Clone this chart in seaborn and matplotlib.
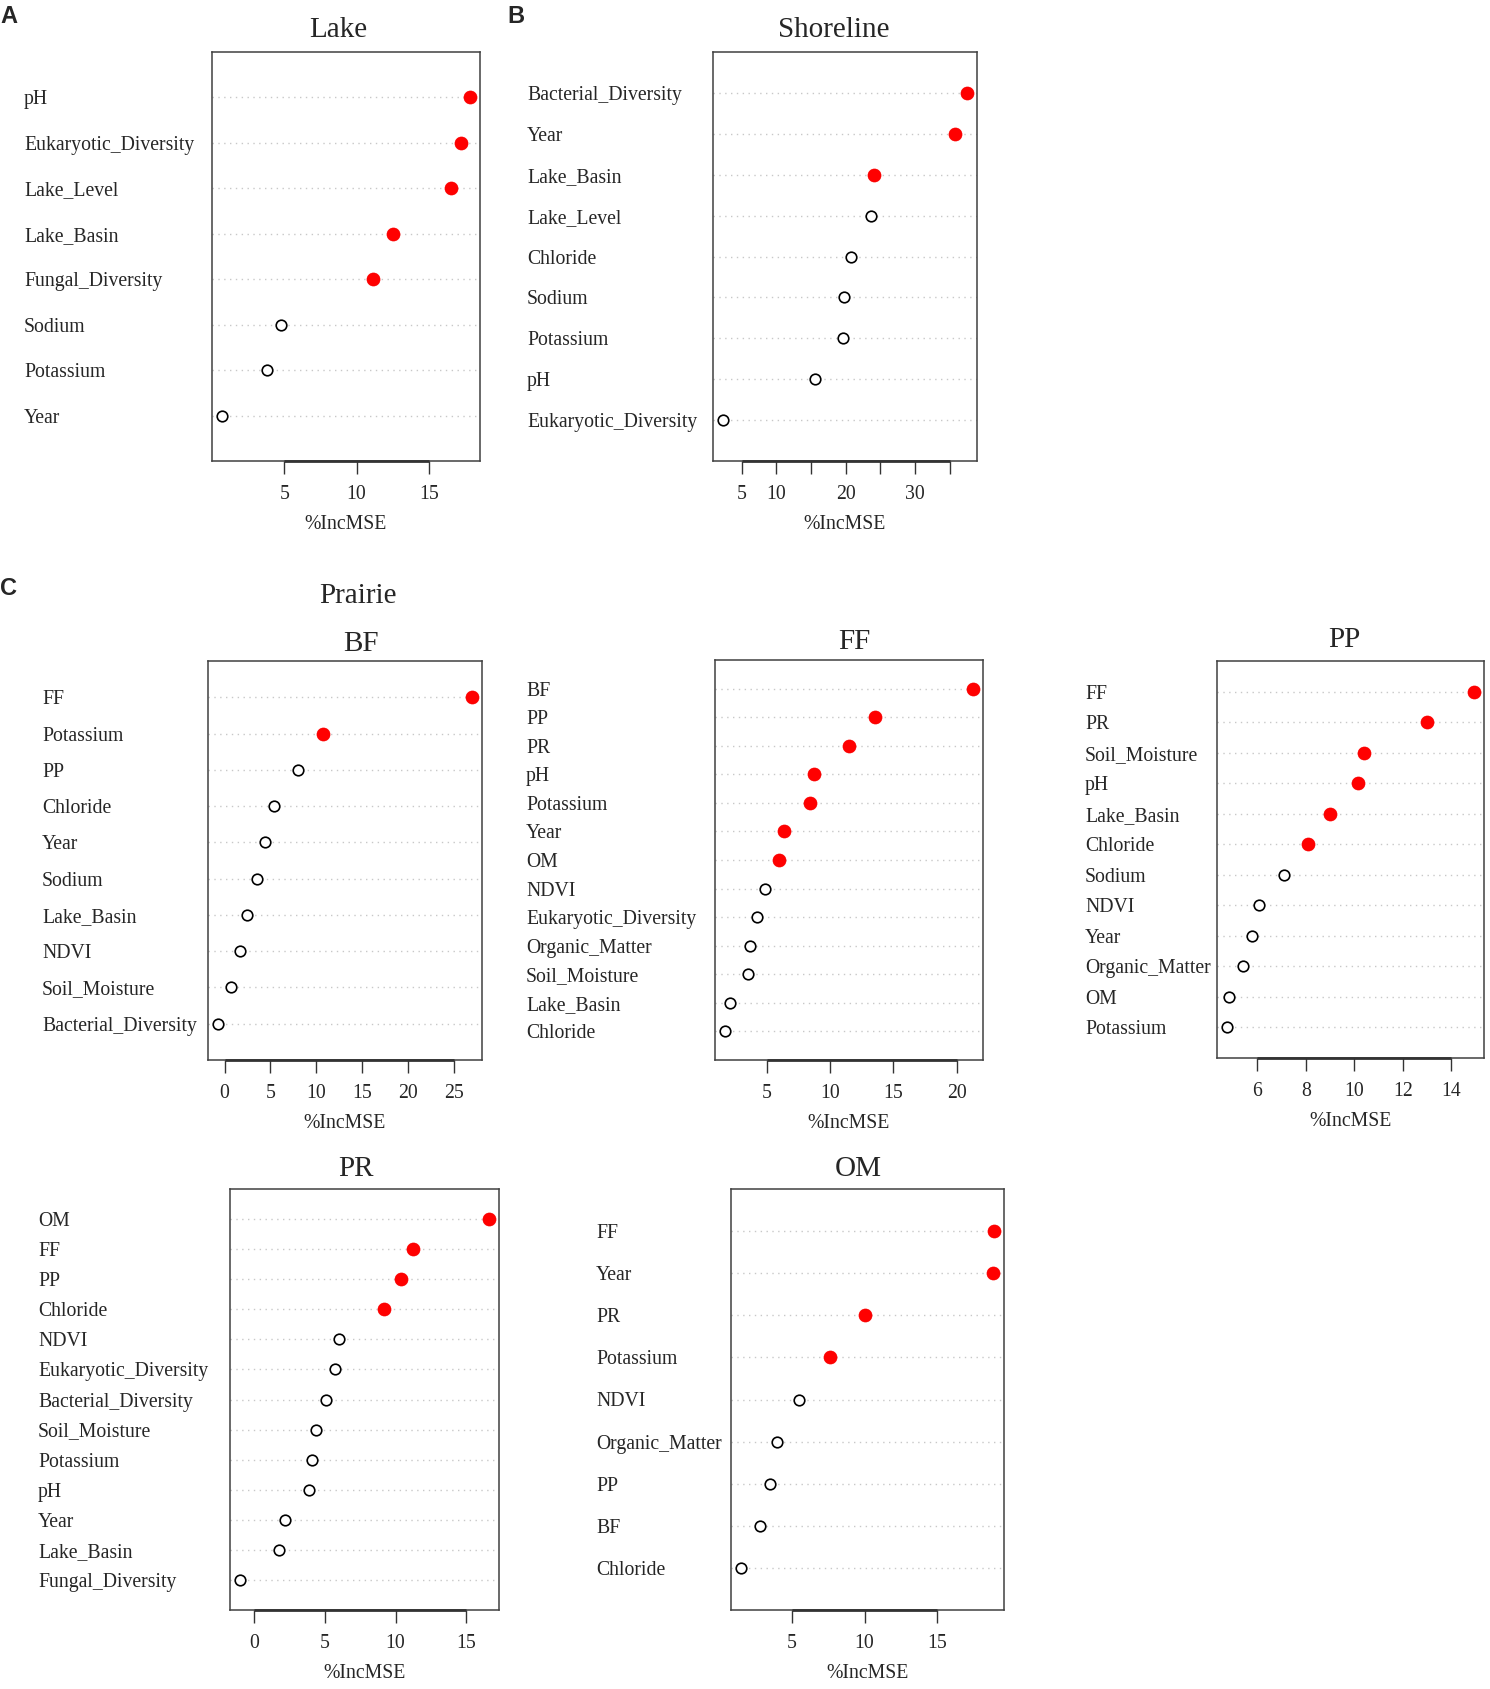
import numpy as np
import pandas as pd
import matplotlib
matplotlib.use("Agg")
import matplotlib.pyplot as plt
import seaborn as sns

# ---------------- data ----------------
lake_vars = ["pH", "Eukaryotic_Diversity", "Lake_Level", "Lake_Basin", "Fungal_Diversity",
             "Sodium", "Potassium", "Year"]
lake_vals = [17.85, 17.25, 16.5, 12.55, 11.1, 4.8, 3.8, 0.68]
lake_nsig = 5
lake_ticks = [5, 10, 15]
lake_ticklabels = ["5", "10", "15"]

shore_vars = ["Bacterial_Diversity", "Year", "Lake_Basin", "Lake_Level", "Chloride",
              "Sodium", "Potassium", "pH", "Eukaryotic_Diversity"]
shore_vals = [37.5, 35.8, 24.1, 23.6, 20.8, 19.8, 19.6, 15.6, 2.3]
shore_nsig = 3
shore_ticks = [5, 10, 15, 20, 25, 30, 35]
shore_ticklabels = ["5", "10", "", "20", "", "30", ""]

bf_vars = ["FF", "Potassium", "PP", "Chloride", "Year", "Sodium", "Lake_Basin", "NDVI",
           "Soil_Moisture", "Bacterial_Diversity"]
bf_vals = [27.0, 10.7, 8.0, 5.4, 4.4, 3.5, 2.5, 1.65, 0.7, -0.7]
bf_nsig = 2
bf_ticks = [0, 5, 10, 15, 20, 25]
bf_ticklabels = ["0", "5", "10", "15", "20", "25"]

ff_vars = ["BF", "PP", "PR", "pH", "Potassium", "Year", "OM", "NDVI", "Eukaryotic_Diversity",
           "Organic_Matter", "Soil_Moisture", "Lake_Basin", "Chloride"]
ff_vals = [21.3, 13.55, 11.5, 8.7, 8.4, 6.4, 6.0, 4.9, 4.25, 3.7, 3.55, 2.1, 1.7]
ff_nsig = 7
ff_ticks = [5, 10, 15, 20]
ff_ticklabels = ["5", "10", "15", "20"]

pp_vars = ["FF", "PR", "Soil_Moisture", "pH", "Lake_Basin", "Chloride", "Sodium", "NDVI",
           "Year", "Organic_Matter", "OM", "Potassium"]
pp_vals = [14.95, 13.0, 10.4, 10.15, 9.0, 8.1, 7.1, 6.05, 5.78, 5.42, 4.83, 4.74]
pp_nsig = 6
pp_ticks = [6, 8, 10, 12, 14]
pp_ticklabels = ["6", "8", "10", "12", "14"]

pr_vars = ["OM", "FF", "PP", "Chloride", "NDVI", "Eukaryotic_Diversity", "Bacterial_Diversity",
           "Soil_Moisture", "Potassium", "pH", "Year", "Lake_Basin", "Fungal_Diversity"]
pr_vals = [16.6, 11.2, 10.35, 9.15, 6.0, 5.7, 5.1, 4.35, 4.1, 3.9, 2.2, 1.75, -1.0]
pr_nsig = 4
pr_ticks = [0, 5, 10, 15]
pr_ticklabels = ["0", "5", "10", "15"]

om_vars = ["FF", "Year", "PR", "Potassium", "NDVI", "Organic_Matter", "PP", "BF", "Chloride"]
om_vals = [18.9, 18.85, 10.0, 7.6, 5.5, 3.95, 3.5, 2.8, 1.5]
om_nsig = 4
om_ticks = [5, 10, 15]
om_ticklabels = ["5", "10", "15"]

titles = ["Lake", "Shoreline", "BF", "FF", "PP", "PR", "OM"]
xlabel = "%IncMSE"

# ---------------- layout (pixels) ----------------
W, H = 1490, 1689
# (left, top, right, bottom, label_left, title_x, title_baseline)
layout = [
    (212, 52, 480, 461, 24, 338, 37),
    (713, 52, 977, 461, 527, 834, 37),
    (208, 661, 482, 1060, 42, 361, 651),
    (715, 660, 983, 1060, 526, 854, 649),
    (1217, 661, 1484, 1058, 1085, 1344, 647),
    (230, 1189, 499, 1610, 38, 356, 1176),
    (731, 1189, 1004, 1610, 596, 858, 1176),
]

panel_data = [
    (lake_vars, lake_vals, lake_nsig, lake_ticks, lake_ticklabels),
    (shore_vars, shore_vals, shore_nsig, shore_ticks, shore_ticklabels),
    (bf_vars, bf_vals, bf_nsig, bf_ticks, bf_ticklabels),
    (ff_vars, ff_vals, ff_nsig, ff_ticks, ff_ticklabels),
    (pp_vars, pp_vals, pp_nsig, pp_ticks, pp_ticklabels),
    (pr_vars, pr_vals, pr_nsig, pr_ticks, pr_ticklabels),
    (om_vars, om_vals, om_nsig, om_ticks, om_ticklabels),
]

sns.set_style("white")
plt.rcParams["font.family"] = ["Liberation Serif", "DejaVu Serif"]
plt.rcParams["axes.unicode_minus"] = False

LABEL_FS = 14.2
TITLE_FS = 21
PX2PT = 72.0 / 100.0

fig = plt.figure(figsize=(W / 100, H / 100), dpi=100)
fig.patch.set_facecolor("white")

for (vars_, vals, nsig, ticks, ticklabels), (l, t, r, b, lab_x, tx, tby), title in zip(
        panel_data, layout, titles):
    ax = fig.add_axes([l / W, 1 - b / H, (r - l) / W, (b - t) / H])
    n = len(vars_)
    ypos = np.arange(n, 0, -1)
    df = pd.DataFrame({"var": vars_, "val": vals, "y": ypos,
                       "sig": [i < nsig for i in range(n)]})

    for yy in ypos:
        ax.axhline(yy, color="#c8c8c8", ls=(0, (1, 3.2)), lw=1.0, zorder=0)

    sns.scatterplot(data=df, x="val", y="y", ax=ax, marker="o", s=58,
                    color="white", edgecolor="black", linewidth=1.2, zorder=3, legend=False)
    sns.scatterplot(data=df[df["sig"]], x="val", y="y", ax=ax, marker="o", s=88,
                    color="#ff0000", edgecolor="#ff0000", linewidth=0.5, zorder=4, legend=False)

    vmin, vmax = min(vals), max(vals)
    rng = vmax - vmin
    ax.set_xlim(vmin - 0.04 * rng, vmax + 0.04 * rng)
    ax.set_ylim(0, n + 1)

    ax.set_yticks(ypos)
    ax.set_yticklabels(vars_, ha="left", fontsize=LABEL_FS)
    ax.tick_params(axis="y", length=0, pad=(l - lab_x) * PX2PT)
    for lab in ax.get_yticklabels():
        lab.set_y(lab.get_position()[1])

    ax.set_xticks(ticks)
    ax.set_xticklabels(ticklabels, fontsize=LABEL_FS)
    ax.tick_params(axis="x", length=9, width=1.0, direction="out", pad=8.5,
                   color="#333333", bottom=True)
    ax.plot([ticks[0], ticks[-1]], [0, 0], transform=ax.get_xaxis_transform(),
            color="#333333", lw=2.0, clip_on=False, solid_capstyle="butt", zorder=5)

    ax.set_ylabel("")
    ax.set_xlabel(xlabel, fontsize=LABEL_FS)
    ax.xaxis.set_label_coords(0.5, -54.0 / (b - t))
    ax.xaxis.label.set_verticalalignment("top")

    for sp in ax.spines.values():
        sp.set_visible(True)
        sp.set_color("#404040")
        sp.set_linewidth(1.1)

    fig.text(tx / W, 1 - tby / H, title, ha="center", va="baseline", fontsize=TITLE_FS)

fig.text(358 / W, 1 - 603 / H, "Prairie", ha="center", va="baseline", fontsize=TITLE_FS)

for letter, lx, ly in [("A", 0, 5), ("B", 507, 5), ("C", 0, 577)]:
    fig.text(lx / W, 1 - ly / H, letter, ha="left", va="top", fontsize=17,
             fontweight="bold", family=["Liberation Sans", "DejaVu Sans"])

fig.savefig("out.png", dpi=100, facecolor="white")
